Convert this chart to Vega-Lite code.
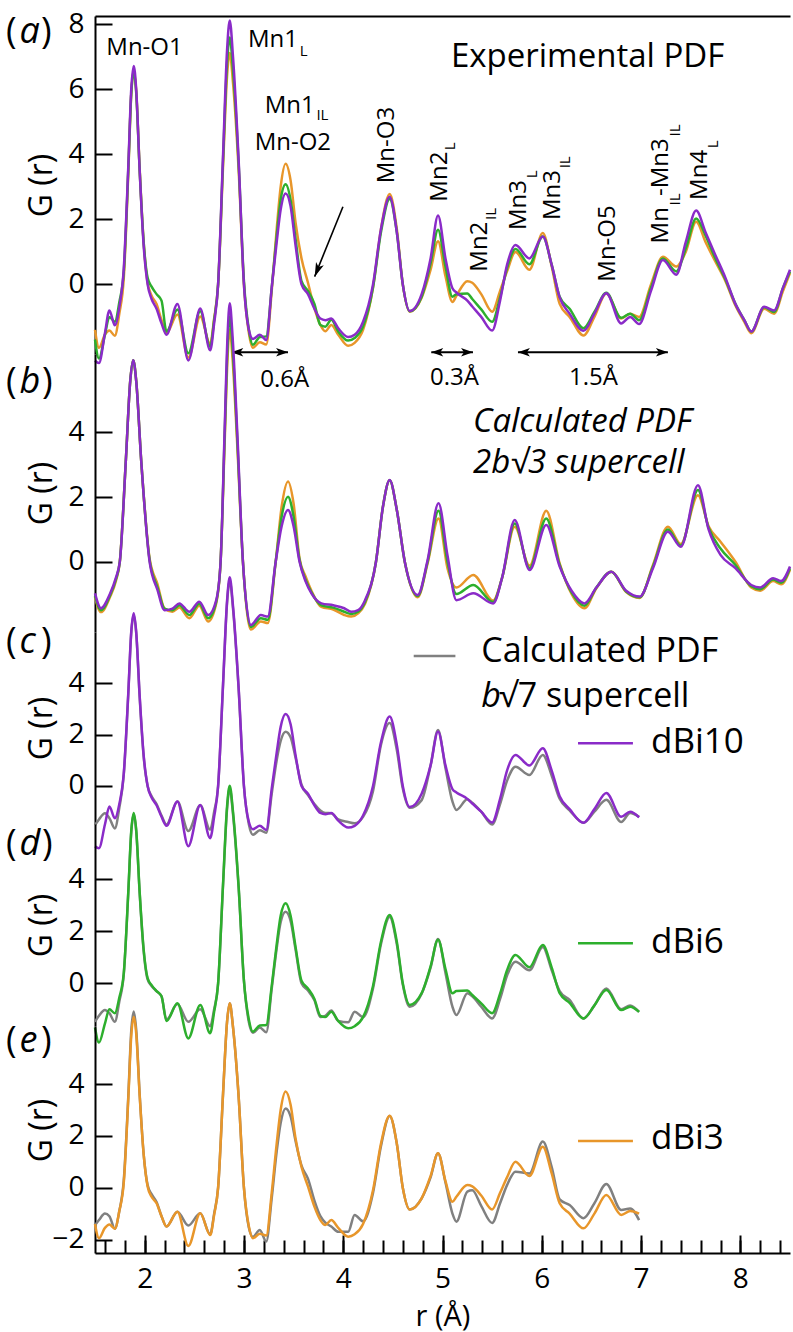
{
"$schema":"https://vega.github.io/schema/vega-lite/v6.json",
"background":"white",
"padding":{"left":6,"top":10,"right":0,"bottom":12},
"spacing":0,
"bounds":"flush",
"config":{"view":{"stroke":null},"font":"Open Sans",
 "axis":{"labelFont":"Open Sans","labelFontSize":28,"labelColor":"#000","titleFont":"Open Sans","titleFontSize":32,"titleFontWeight":"normal","titleColor":"#000","domainColor":"#000","domainWidth":2,"tickColor":"#000","tickWidth":2,"grid":false,"labelFlush":false,"labelOverlap":false}},
"datasets":{
"exp":[
{"r":1.5,"P":-2.35,"G":-1.7,"O":-1.4,"gc":-1.52,"gd":-1.48,"ge":-1.45},
{"r":1.54,"P":-2.42,"G":-2.28,"O":-1.95,"gc":-1.3,"gd":-1.25,"ge":-1.25},
{"r":1.6,"P":-1.5,"G":-1.55,"O":-1.55,"gc":-1.06,"gd":-1.03,"ge":-1.0},
{"r":1.645,"P":-0.8,"G":-1.0,"O":-1.42,"gc":-1.25,"gd":-1.15,"ge":-1.1},
{"r":1.7,"P":-1.26,"G":-1.15,"O":-1.58,"gc":-1.65,"gd":-1.48,"ge":-1.58},
{"r":1.745,"P":-0.7,"G":-0.55,"O":-0.9,"gc":-0.85,"gd":-0.7,"ge":-0.9},
{"r":1.79,"P":0.5,"G":0.4,"O":0.2,"gc":0.45,"gd":0.35,"ge":0.3},
{"r":1.835,"P":3.6,"G":3.5,"O":3.4,"gc":3.55,"gd":3.45,"ge":3.5},
{"r":1.865,"P":6.0,"G":5.85,"O":5.85,"gc":5.95,"gd":5.8,"ge":6.05},
{"r":1.89,"P":6.72,"G":6.55,"O":6.6,"gc":6.65,"gd":6.5,"ge":6.8},
{"r":1.915,"P":6.0,"G":5.9,"O":5.95,"gc":5.95,"gd":5.85,"ge":6.1},
{"r":1.95,"P":3.5,"G":3.5,"O":3.55,"gc":3.45,"gd":3.45,"ge":3.6},
{"r":1.99,"P":1.2,"G":1.3,"O":1.3,"gc":1.15,"gd":1.25,"ge":1.3},
{"r":2.03,"P":0.0,"G":0.2,"O":0.05,"gc":0.0,"gd":0.15,"ge":0.1},
{"r":2.07,"P":-0.45,"G":-0.07,"O":-0.35,"gc":-0.4,"gd":-0.1,"ge":-0.25},
{"r":2.12,"P":-0.75,"G":-0.3,"O":-0.6,"gc":-0.7,"gd":-0.3,"ge":-0.55},
{"r":2.17,"P":-1.2,"G":-0.5,"O":-1.1,"gc":-1.15,"gd":-0.5,"ge":-1.1},
{"r":2.22,"P":-1.55,"G":-1.45,"O":-1.5,"gc":-1.5,"gd":-1.4,"ge":-1.5},
{"r":2.33,"P":-0.6,"G":-0.77,"O":-0.93,"gc":-0.6,"gd":-0.8,"ge":-0.93},
{"r":2.44,"P":-2.34,"G":-2.12,"O":-2.25,"gc":-1.75,"gd":-1.48,"ge":-1.46},
{"r":2.56,"P":-0.74,"G":-0.83,"O":-0.99,"gc":-0.75,"gd":-1.0,"ge":-0.99},
{"r":2.66,"P":-2.03,"G":-1.92,"O":-1.83,"gc":-1.7,"gd":-1.65,"ge":-1.8},
{"r":2.7,"P":-1.2,"G":-1.1,"O":-1.05,"gc":-1.0,"gd":-1.0,"ge":-1.0},
{"r":2.74,"P":0.0,"G":0.0,"O":0.0,"gc":0.0,"gd":0.0,"ge":0.0},
{"r":2.79,"P":4.0,"G":3.85,"O":3.65,"gc":3.95,"gd":3.8,"ge":3.65},
{"r":2.83,"P":7.2,"G":6.8,"O":6.4,"gc":7.1,"gd":6.7,"ge":6.4},
{"r":2.857,"P":8.12,"G":7.6,"O":7.12,"gc":8.0,"gd":7.5,"ge":7.12},
{"r":2.89,"P":7.0,"G":6.6,"O":6.2,"gc":6.9,"gd":6.5,"ge":6.2},
{"r":2.947,"P":3.8,"G":3.7,"O":3.5,"gc":3.75,"gd":3.65,"ge":3.5},
{"r":3.0,"P":0.0,"G":0.1,"O":0.0,"gc":0.0,"gd":0.1,"ge":0.0},
{"r":3.05,"P":-1.4,"G":-1.4,"O":-1.5,"gc":-1.5,"gd":-1.5,"ge":-1.55},
{"r":3.09,"P":-1.68,"G":-1.86,"O":-1.95,"gc":-1.9,"gd":-1.9,"ge":-1.9},
{"r":3.16,"P":-1.55,"G":-1.62,"O":-1.78,"gc":-1.72,"gd":-1.7,"ge":-1.63},
{"r":3.225,"P":-1.71,"G":-1.6,"O":-1.85,"gc":-1.82,"gd":-1.88,"ge":-2.08},
{"r":3.28,"P":-0.1,"G":-0.1,"O":-0.2,"gc":-0.3,"gd":-0.2,"ge":-0.4},
{"r":3.33,"P":1.3,"G":1.5,"O":1.7,"gc":1.0,"gd":1.35,"ge":1.4},
{"r":3.37,"P":2.3,"G":2.6,"O":3.0,"gc":1.75,"gd":2.35,"ge":2.5},
{"r":3.42,"P":2.8,"G":3.08,"O":3.71,"gc":2.11,"gd":2.75,"ge":3.06},
{"r":3.47,"P":2.4,"G":2.6,"O":3.2,"gc":1.9,"gd":2.4,"ge":2.75},
{"r":3.52,"P":1.2,"G":1.4,"O":1.9,"gc":1.1,"gd":1.3,"ge":1.8},
{"r":3.58,"P":0.0,"G":0.1,"O":0.8,"gc":0.05,"gd":0.0,"ge":0.85},
{"r":3.645,"P":-0.3,"G":-0.2,"O":0.05,"gc":-0.35,"gd":-0.28,"ge":0.35},
{"r":3.71,"P":-0.75,"G":-0.6,"O":-0.73,"gc":-0.7,"gd":-0.65,"ge":-0.5},
{"r":3.77,"P":-1.05,"G":-1.25,"O":-1.25,"gc":-0.95,"gd":-1.3,"ge":-1.1},
{"r":3.82,"P":-1.1,"G":-1.3,"O":-1.44,"gc":-1.05,"gd":-1.25,"ge":-1.35},
{"r":3.88,"P":-1.05,"G":-1.09,"O":-1.25,"gc":-1.06,"gd":-1.05,"ge":-1.5},
{"r":3.95,"P":-1.35,"G":-1.45,"O":-1.55,"gc":-1.3,"gd":-1.45,"ge":-1.7},
{"r":4.05,"P":-1.62,"G":-1.73,"O":-1.89,"gc":-1.4,"gd":-1.5,"ge":-1.7},
{"r":4.115,"P":-1.55,"G":-1.65,"O":-1.8,"gc":-1.45,"gd":-1.09,"ge":-1.05},
{"r":4.2,"P":-1.15,"G":-1.3,"O":-1.4,"gc":-1.2,"gd":-1.3,"ge":-1.3},
{"r":4.3,"P":0.0,"G":-0.1,"O":-0.1,"gc":-0.2,"gd":-0.2,"ge":-0.2},
{"r":4.38,"P":1.7,"G":1.6,"O":1.7,"gc":1.6,"gd":1.5,"ge":1.6},
{"r":4.468,"P":2.7,"G":2.63,"O":2.78,"gc":2.45,"gd":2.55,"ge":2.77},
{"r":4.54,"P":1.6,"G":1.6,"O":1.7,"gc":1.4,"gd":1.5,"ge":1.7},
{"r":4.6,"P":0.0,"G":0.0,"O":0.0,"gc":-0.1,"gd":-0.05,"ge":0.0},
{"r":4.67,"P":-0.82,"G":-0.83,"O":-0.84,"gc":-0.85,"gd":-0.9,"ge":-0.84},
{"r":4.79,"P":-0.3,"G":-0.38,"O":-0.41,"gc":-0.55,"gd":-0.4,"ge":-0.41},
{"r":4.88,"P":0.8,"G":0.65,"O":0.45,"gc":0.8,"gd":0.6,"ge":0.4},
{"r":4.955,"P":2.12,"G":1.68,"O":1.33,"gc":2.18,"gd":1.7,"ge":1.33},
{"r":5.03,"P":0.8,"G":0.55,"O":0.25,"gc":0.7,"gd":0.4,"ge":0.2},
{"r":5.1,"P":-0.12,"G":-0.38,"O":-0.54,"gc":-0.6,"gd":-0.9,"ge":-1.0},
{"r":5.14,"P":-0.25,"G":-0.3,"O":-0.35,"gc":-0.93,"gd":-1.22,"ge":-1.31},
{"r":5.25,"P":-0.5,"G":-0.28,"O":0.1,"gc":-0.52,"gd":-0.38,"ge":-0.15},
{"r":5.3,"P":-0.68,"G":-0.45,"O":0.05,"gc":-0.65,"gd":-0.5,"ge":-0.1},
{"r":5.39,"P":-1.0,"G":-0.77,"O":-0.3,"gc":-1.0,"gd":-0.9,"ge":-0.7},
{"r":5.5,"P":-1.42,"G":-1.15,"O":-0.84,"gc":-1.5,"gd":-1.35,"ge":-1.36},
{"r":5.58,"P":-0.5,"G":-0.4,"O":-0.2,"gc":-0.7,"gd":-0.6,"ge":-0.6},
{"r":5.65,"P":0.6,"G":0.5,"O":0.4,"gc":0.2,"gd":0.3,"ge":0.1},
{"r":5.735,"P":1.21,"G":1.09,"O":1.0,"gc":0.75,"gd":0.83,"ge":0.62},
{"r":5.875,"P":0.8,"G":0.62,"O":0.45,"gc":0.43,"gd":0.5,"ge":0.55},
{"r":6.01,"P":1.47,"G":1.47,"O":1.58,"gc":1.21,"gd":1.4,"ge":1.78},
{"r":6.1,"P":0.6,"G":0.6,"O":0.55,"gc":0.4,"gd":0.5,"ge":0.8},
{"r":6.18,"P":-0.4,"G":-0.38,"O":-0.6,"gc":-0.5,"gd":-0.3,"ge":-0.45},
{"r":6.28,"P":-0.9,"G":-0.75,"O":-1.0,"gc":-0.95,"gd":-0.64,"ge":-0.67},
{"r":6.42,"P":-1.43,"G":-1.35,"O":-1.57,"gc":-1.43,"gd":-1.35,"ge":-1.18},
{"r":6.53,"P":-0.9,"G":-0.85,"O":-1.0,"gc":-1.0,"gd":-0.85,"ge":-0.6},
{"r":6.65,"P":-0.27,"G":-0.26,"O":-0.28,"gc":-0.54,"gd":-0.2,"ge":0.14},
{"r":6.8,"P":-1.2,"G":-1.03,"O":-1.05,"gc":-1.4,"gd":-1.0,"ge":-0.86},
{"r":6.89,"P":-1.0,"G":-0.9,"O":-0.9,"gc":-1.05,"gd":-0.85,"ge":-0.8},
{"r":6.98,"P":-1.22,"G":-1.1,"O":-1.0,"gc":-1.2,"gd":-1.1,"ge":-1.25},
{"r":7.1,"P":-0.2,"G":-0.1,"O":0.0},
{"r":7.22,"P":0.75,"G":0.8,"O":0.85},
{"r":7.355,"P":0.3,"G":0.4,"O":0.55},
{"r":7.45,"P":1.3,"G":1.1,"O":1.0},
{"r":7.555,"P":2.27,"G":2.03,"O":1.93},
{"r":7.65,"P":1.6,"G":1.5,"O":1.3},
{"r":7.74,"P":0.96,"G":0.85,"O":0.75},
{"r":7.85,"P":0.2,"G":0.15,"O":0.1},
{"r":7.95,"P":-0.6,"G":-0.6,"O":-0.65},
{"r":8.04,"P":-1.1,"G":-1.1,"O":-1.15},
{"r":8.11,"P":-1.45,"G":-1.45,"O":-1.5},
{"r":8.24,"P":-0.69,"G":-0.7,"O":-0.75},
{"r":8.34,"P":-0.8,"G":-0.85,"O":-0.9},
{"r":8.43,"P":-0.1,"G":-0.1,"O":-0.2},
{"r":8.5,"P":0.45,"G":0.4,"O":0.35}
],
"calc":[
{"r":1.5,"P":-0.98,"G":-1.05,"O":-1.1},
{"r":1.56,"P":-1.44,"G":-1.5,"O":-1.56},
{"r":1.65,"P":-1.0,"G":-1.05,"O":-1.1},
{"r":1.71,"P":-0.5,"G":-0.55,"O":-0.6},
{"r":1.75,"P":0.0,"G":0.0,"O":0.0},
{"r":1.81,"P":3.1,"G":3.1,"O":3.1},
{"r":1.855,"P":5.6,"G":5.6,"O":5.6},
{"r":1.885,"P":6.24,"G":6.24,"O":6.24},
{"r":1.915,"P":5.6,"G":5.6,"O":5.6},
{"r":1.966,"P":3.1,"G":3.1,"O":3.1},
{"r":2.05,"P":0.0,"G":0.05,"O":0.1},
{"r":2.13,"P":-0.88,"G":-0.8,"O":-0.7},
{"r":2.2,"P":-1.5,"G":-1.45,"O":-1.45},
{"r":2.28,"P":-1.45,"G":-1.5,"O":-1.55},
{"r":2.35,"P":-1.29,"G":-1.35,"O":-1.42},
{"r":2.45,"P":-1.55,"G":-1.65,"O":-1.75},
{"r":2.55,"P":-1.24,"G":-1.3,"O":-1.36},
{"r":2.64,"P":-1.65,"G":-1.75,"O":-1.85},
{"r":2.72,"P":-1.2,"G":-1.25,"O":-1.3},
{"r":2.765,"P":0.0,"G":0.0,"O":0.0},
{"r":2.805,"P":4.0,"G":3.8,"O":3.6},
{"r":2.835,"P":7.0,"G":6.65,"O":6.3},
{"r":2.857,"P":8.0,"G":7.6,"O":7.2},
{"r":2.885,"P":7.0,"G":6.65,"O":6.3},
{"r":2.933,"P":4.0,"G":3.8,"O":3.6},
{"r":2.99,"P":0.0,"G":0.0,"O":0.0},
{"r":3.07,"P":-1.96,"G":-2.02,"O":-2.1},
{"r":3.17,"P":-1.65,"G":-1.75,"O":-1.85},
{"r":3.24,"P":-1.7,"G":-1.8,"O":-1.9},
{"r":3.32,"P":0.0,"G":0.0,"O":0.0},
{"r":3.38,"P":1.1,"G":1.4,"O":1.7},
{"r":3.444,"P":1.6,"G":2.01,"O":2.48},
{"r":3.5,"P":1.1,"G":1.4,"O":1.8},
{"r":3.56,"P":0.0,"G":0.05,"O":0.1},
{"r":3.62,"P":-0.6,"G":-0.55,"O":-0.45},
{"r":3.68,"P":-0.98,"G":-0.95,"O":-0.9},
{"r":3.78,"P":-1.29,"G":-1.35,"O":-1.4},
{"r":3.9,"P":-1.35,"G":-1.42,"O":-1.48},
{"r":4.01,"P":-1.44,"G":-1.55,"O":-1.65},
{"r":4.08,"P":-1.55,"G":-1.62,"O":-1.7},
{"r":4.15,"P":-1.5,"G":-1.55,"O":-1.6},
{"r":4.22,"P":-1.19,"G":-1.25,"O":-1.3},
{"r":4.33,"P":0.0,"G":0.0,"O":0.0},
{"r":4.4,"P":1.7,"G":1.7,"O":1.7},
{"r":4.468,"P":2.53,"G":2.52,"O":2.52},
{"r":4.54,"P":1.6,"G":1.6,"O":1.6},
{"r":4.62,"P":0.0,"G":0.0,"O":0.0},
{"r":4.75,"P":-1.03,"G":-1.06,"O":-1.1},
{"r":4.85,"P":0.05,"G":0.0,"O":-0.05},
{"r":4.96,"P":1.81,"G":1.58,"O":1.34},
{"r":5.05,"P":0.2,"G":0.0,"O":-0.2},
{"r":5.14,"P":-1.19,"G":-1.0,"O":-0.8},
{"r":5.31,"P":-0.98,"G":-0.72,"O":-0.41},
{"r":5.51,"P":-1.29,"G":-1.25,"O":-1.2},
{"r":5.6,"P":-0.5,"G":-0.5,"O":-0.5},
{"r":5.727,"P":1.29,"G":1.18,"O":1.08},
{"r":5.877,"P":-0.26,"G":-0.2,"O":-0.12},
{"r":6.045,"P":1.14,"G":1.34,"O":1.58},
{"r":6.18,"P":-0.15,"G":-0.1,"O":-0.05},
{"r":6.3,"P":-0.9,"G":-0.95,"O":-1.0},
{"r":6.43,"P":-1.29,"G":-1.36,"O":-1.44},
{"r":6.55,"P":-0.8,"G":-0.8,"O":-0.82},
{"r":6.7,"P":-0.31,"G":-0.31,"O":-0.31},
{"r":6.85,"P":-0.9,"G":-0.92,"O":-0.94},
{"r":6.985,"P":-1.08,"G":-1.1,"O":-1.12},
{"r":7.12,"P":-0.2,"G":-0.15,"O":-0.1},
{"r":7.27,"P":0.93,"G":1.0,"O":1.08},
{"r":7.4,"P":0.46,"G":0.5,"O":0.55},
{"r":7.573,"P":2.37,"G":2.22,"O":2.06},
{"r":7.68,"P":1.0,"G":1.05,"O":1.1},
{"r":7.8,"P":0.21,"G":0.41,"O":0.62},
{"r":7.95,"P":-0.2,"G":-0.1,"O":0.0},
{"r":8.11,"P":-0.72,"G":-0.76,"O":-0.8},
{"r":8.2,"P":-0.8,"G":-0.85,"O":-0.9},
{"r":8.33,"P":-0.51,"G":-0.55,"O":-0.6},
{"r":8.41,"P":-0.6,"G":-0.65,"O":-0.7},
{"r":8.5,"P":-0.15,"G":-0.2,"O":-0.25}
]
},
"vconcat":[
{
"width":695,"height":338,
"encoding":{
 "x":{"field":"r","type":"quantitative","scale":{"domain":[1.5,8.5],"nice":false,"zero":false},"axis":{"orient":"top","ticks":false,"labels":false,"domain":true,"title":null}},
 "y":{"field":"v","type":"quantitative","scale":{"domain":[-2.142,8.258],"nice":false,"zero":false},"axis":{"orient":"left","values":[0,2,4,6,8],"tickSize":-17,"labelPadding":28,"title":"G (r)","titleAngle":270,"titleAlign":"center","titleBaseline":"middle","titleX":-54,"titleY":169}}
},
"layer":[
 {"data":{"name":"exp"},"transform":[{"fold":["O"],"as":["k","v"]}],"mark":{"type":"line","color":"#E8962A","strokeWidth":2.5,"interpolate":"monotone"}},
 {"data":{"name":"exp"},"transform":[{"fold":["G"],"as":["k","v"]}],"mark":{"type":"line","color":"#2DAF2D","strokeWidth":2.5,"interpolate":"monotone"}},
 {"data":{"name":"exp"},"transform":[{"fold":["P"],"as":["k","v"]}],"mark":{"type":"line","color":"#8A2BC8","strokeWidth":2.5,"interpolate":"monotone"}},
 {"data":{"values":[{"t":"Mn-O1","r":1.614,"v":7.27},{"t":"Mn1","r":3.041,"v":7.52},{"t":"Mn1","r":3.209,"v":5.5},{"t":"Mn-O2","r":3.108,"v":4.36}]},
  "mark":{"type":"text","font":"Open Sans","fontSize":24,"align":"left","baseline":"middle","color":"#000"},"encoding":{"text":{"field":"t"}}},
 {"data":{"values":[{"t":"L","r":3.561,"v":7.19},{"t":"IL","r":3.73,"v":5.22}]},
  "mark":{"type":"text","font":"Open Sans","fontSize":15,"align":"left","baseline":"middle","color":"#000"},"encoding":{"text":{"field":"t"}}},
 {"data":{"values":[{"t":"Mn-O3","r":4.44,"v":3.11},{"t":"Mn2","r":4.971,"v":2.545},{"t":"Mn2","r":5.374,"v":0.39},{"t":"Mn3","r":5.767,"v":1.674},{"t":"Mn3","r":6.112,"v":1.98},{"t":"Mn-O5","r":6.666,"v":0.083},{"t":"Mn","r":7.203,"v":1.26},{"t":"-Mn3","r":7.203,"v":2.72},{"t":"Mn4","r":7.59,"v":2.6}]},
  "mark":{"type":"text","font":"Open Sans","fontSize":24,"align":"left","baseline":"middle","angle":270,"color":"#000"},"encoding":{"text":{"field":"t"}}},
 {"data":{"values":[{"t":"L","r":5.078,"v":4.13},{"t":"IL","r":5.49,"v":1.98},{"t":"L","r":5.904,"v":3.265},{"t":"IL","r":6.23,"v":3.57},{"t":"IL","r":7.337,"v":2.43},{"t":"IL","r":7.337,"v":4.55},{"t":"L","r":7.724,"v":4.19}]},
  "mark":{"type":"text","font":"Open Sans","fontSize":15,"align":"left","baseline":"middle","angle":270,"color":"#000"},"encoding":{"text":{"field":"t"}}},
 {"data":{"values":[{"t":"Experimental PDF","r":5.085,"v":7.01}]},
  "mark":{"type":"text","font":"Open Sans","fontSize":33,"align":"left","baseline":"middle","color":"#000"},"encoding":{"text":{"field":"t"}}},
 {"data":{"values":[{"t":"(","r":0.604,"v":7.42},{"t":")","r":0.955,"v":7.42}]},
  "mark":{"type":"text","font":"Open Sans","fontSize":36,"align":"left","baseline":"alphabetic","color":"#000"},"encoding":{"text":{"field":"t"}}},
 {"data":{"values":[{"t":"a","r":0.74,"v":7.42}]},
  "mark":{"type":"text","font":"Open Sans","fontSize":36,"fontStyle":"italic","align":"left","baseline":"alphabetic","color":"#000"},"encoding":{"text":{"field":"t"}}},
 {"data":{"values":[{"r":3.997,"v":2.39,"r2":3.712,"v2":0.24}]},
  "mark":{"type":"rule","color":"#000","strokeWidth":1.6},"encoding":{"x2":{"field":"r2"},"y2":{"field":"v2"}}},
 {"data":{"values":[{"r":3.739,"v":0.437}]},
  "mark":{"type":"point","shape":"M0,-1L0.6,1L0,0.5L-0.6,1Z","filled":true,"color":"#000","opacity":1,"size":196,"angle":202},"encoding":{}},
 {"data":{"values":[{"r":2.873,"r2":3.444,"v":-2.09},{"r":4.887,"r2":5.307,"v":-2.09},{"r":5.76,"r2":7.27,"v":-2.09}]},
  "mark":{"type":"rule","color":"#000","strokeWidth":2},"encoding":{"x2":{"field":"r2"}}},
 {"data":{"values":[{"r":2.933,"v":-2.09},{"r":4.947,"v":-2.09},{"r":5.82,"v":-2.09}]},
  "mark":{"type":"point","shape":"M-1,0L1,-0.7L0.5,0L1,0.7Z","filled":true,"color":"#000","opacity":1,"size":144},"encoding":{}},
 {"data":{"values":[{"r":3.384,"v":-2.09},{"r":5.247,"v":-2.09},{"r":7.21,"v":-2.09}]},
  "mark":{"type":"point","shape":"M1,0L-1,-0.7L-0.5,0L-1,0.7Z","filled":true,"color":"#000","opacity":1,"size":144},"encoding":{}},
 {"data":{"values":[{"t":"0.6Å","r":3.41,"v":-2.94},{"t":"0.3Å","r":5.12,"v":-2.89},{"t":"1.5Å","r":6.52,"v":-2.89}]},
  "mark":{"type":"text","font":"Open Sans","fontSize":24,"align":"center","baseline":"middle","color":"#000"},"encoding":{"text":{"field":"t"}}}
]
},
{
"width":695,"height":278,
"encoding":{
 "x":{"field":"r","type":"quantitative","scale":{"domain":[1.5,8.5],"nice":false,"zero":false},"axis":null},
 "y":{"field":"v","type":"quantitative","scale":{"domain":[-2.176,6.43],"nice":false,"zero":false},"axis":{"orient":"left","values":[0,2,4],"tickSize":-17,"labelPadding":28,"title":"G (r)","titleAngle":270,"titleAlign":"center","titleBaseline":"middle","titleX":-54,"titleY":139}}
},
"layer":[
 {"data":{"name":"calc"},"transform":[{"fold":["O"],"as":["k","v"]}],"mark":{"type":"line","color":"#E8962A","strokeWidth":2.5,"interpolate":"monotone"}},
 {"data":{"name":"calc"},"transform":[{"fold":["G"],"as":["k","v"]}],"mark":{"type":"line","color":"#2DAF2D","strokeWidth":2.5,"interpolate":"monotone"}},
 {"data":{"name":"calc"},"transform":[{"fold":["P"],"as":["k","v"]}],"mark":{"type":"line","color":"#8A2BC8","strokeWidth":2.5,"interpolate":"monotone"}},
 {"data":{"values":[{"t":"(","r":0.604,"v":5.21},{"t":")","r":0.965,"v":5.21}]},
  "mark":{"type":"text","font":"Open Sans","fontSize":36,"align":"left","baseline":"alphabetic","color":"#000"},"encoding":{"text":{"field":"t"}}},
 {"data":{"values":[{"t":"b","r":0.74,"v":5.21}]},
  "mark":{"type":"text","font":"Open Sans","fontSize":36,"fontStyle":"italic","align":"left","baseline":"alphabetic","color":"#000"},"encoding":{"text":{"field":"t"}}},
 {"data":{"values":[{"t":"Calculated PDF","r":5.307,"v":4.33},{"t":"2b√3 supercell","r":5.307,"v":3.05}]},
  "mark":{"type":"text","font":"Open Sans","fontSize":33,"fontStyle":"italic","align":"left","baseline":"middle","color":"#000"},"encoding":{"text":{"field":"t"}}}
]
},
{
"width":695,"height":192,
"encoding":{
 "x":{"field":"r","type":"quantitative","scale":{"domain":[1.5,8.5],"nice":false,"zero":false},"axis":null},
 "y":{"field":"v","type":"quantitative","scale":{"domain":[-1.479,5.992],"nice":false,"zero":false},"axis":{"orient":"left","values":[0,2,4],"tickSize":-17,"labelPadding":28,"title":"G (r)","titleAngle":270,"titleAlign":"center","titleBaseline":"middle","titleX":-54,"titleY":96}}
},
"layer":[
 {"data":{"name":"exp"},"transform":[{"filter":"datum.r <= 7"},{"fold":["gc"],"as":["k","v"]}],"mark":{"type":"line","color":"#808080","strokeWidth":2.5,"interpolate":"monotone"}},
 {"data":{"name":"exp"},"transform":[{"filter":"datum.r <= 7"},{"fold":["P"],"as":["k","v"]}],"mark":{"type":"line","color":"#8A2BC8","strokeWidth":2.5,"interpolate":"monotone"}},
 {"data":{"values":[{"t":"(","r":0.604,"v":5.16},{"t":")","r":0.955,"v":5.16}]},
  "mark":{"type":"text","font":"Open Sans","fontSize":36,"align":"left","baseline":"alphabetic","color":"#000"},"encoding":{"text":{"field":"t"}}},
 {"data":{"values":[{"t":"c","r":0.74,"v":5.16}]},
  "mark":{"type":"text","font":"Open Sans","fontSize":36,"fontStyle":"italic","align":"left","baseline":"alphabetic","color":"#000"},"encoding":{"text":{"field":"t"}}},
 {"data":{"values":[{"r":4.71,"r2":5.13,"v":5.06}]},
  "mark":{"type":"rule","color":"#808080","strokeWidth":2.5},"encoding":{"x2":{"field":"r2"}}},
 {"data":{"values":[{"t":"Calculated PDF","r":5.39,"v":5.23},{"t":"√7 supercell","r":5.57,"v":3.47}]},
  "mark":{"type":"text","font":"Open Sans","fontSize":34,"align":"left","baseline":"middle","color":"#000"},"encoding":{"text":{"field":"t"}}},
 {"data":{"values":[{"t":"b","r":5.39,"v":3.47}]},
  "mark":{"type":"text","font":"Open Sans","fontSize":34,"fontStyle":"italic","align":"left","baseline":"middle","color":"#000"},"encoding":{"text":{"field":"t"}}},
 {"data":{"values":[{"r":6.365,"r2":6.918,"v":1.66}]},
  "mark":{"type":"rule","color":"#8A2BC8","strokeWidth":2.5},"encoding":{"x2":{"field":"r2"}}},
 {"data":{"values":[{"t":"dBi10","r":7.1,"v":1.72}]},
  "mark":{"type":"text","font":"Open Sans","fontSize":35,"align":"left","baseline":"middle","color":"#000"},"encoding":{"text":{"field":"t"}}}
]
},
{
"width":695,"height":202,
"encoding":{
 "x":{"field":"r","type":"quantitative","scale":{"domain":[1.5,8.5],"nice":false,"zero":false},"axis":null},
 "y":{"field":"v","type":"quantitative","scale":{"domain":[-1.642,6.127],"nice":false,"zero":false},"axis":{"orient":"left","values":[0,2,4],"tickSize":-17,"labelPadding":28,"title":"G (r)","titleAngle":270,"titleAlign":"center","titleBaseline":"middle","titleX":-54,"titleY":101}}
},
"layer":[
 {"data":{"name":"exp"},"transform":[{"filter":"datum.r <= 7"},{"fold":["gd"],"as":["k","v"]}],"mark":{"type":"line","color":"#808080","strokeWidth":2.5,"interpolate":"monotone"}},
 {"data":{"name":"exp"},"transform":[{"filter":"datum.r <= 7"},{"fold":["G"],"as":["k","v"]}],"mark":{"type":"line","color":"#2DAF2D","strokeWidth":2.5,"interpolate":"monotone"}},
 {"data":{"values":[{"t":"(","r":0.604,"v":4.93},{"t":")","r":0.965,"v":4.93}]},
  "mark":{"type":"text","font":"Open Sans","fontSize":36,"align":"left","baseline":"alphabetic","color":"#000"},"encoding":{"text":{"field":"t"}}},
 {"data":{"values":[{"t":"d","r":0.74,"v":4.93}]},
  "mark":{"type":"text","font":"Open Sans","fontSize":36,"fontStyle":"italic","align":"left","baseline":"alphabetic","color":"#000"},"encoding":{"text":{"field":"t"}}},
 {"data":{"values":[{"r":6.365,"r2":6.918,"v":1.54}]},
  "mark":{"type":"rule","color":"#2DAF2D","strokeWidth":2.5},"encoding":{"x2":{"field":"r2"}}},
 {"data":{"values":[{"t":"dBi6","r":7.1,"v":1.6}]},
  "mark":{"type":"text","font":"Open Sans","fontSize":35,"align":"left","baseline":"middle","color":"#000"},"encoding":{"text":{"field":"t"}}}
]
},
{
"width":695,"height":227,
"encoding":{
 "y":{"field":"v","type":"quantitative","scale":{"domain":[-2.521,6.243],"nice":false,"zero":false},"axis":{"orient":"left","values":[-2,0,2,4],"tickSize":-17,"labelPadding":28,"title":"G (r)","titleAngle":270,"titleAlign":"center","titleBaseline":"middle","titleX":-54,"titleY":104}}
},
"resolve":{"axis":{"x":"independent"}},
"layer":[
 {"data":{"name":"exp"},"transform":[{"filter":"datum.r <= 7"},{"fold":["ge"],"as":["k","v"]}],"mark":{"type":"line","color":"#808080","strokeWidth":2.5,"interpolate":"monotone"},
  "encoding":{"x":{"field":"r","type":"quantitative","scale":{"domain":[1.5,8.5],"nice":false,"zero":false},"axis":{"orient":"bottom","values":[1.6,1.8,2,2.2,2.4,2.6,2.8,3,3.2,3.4,3.6,3.8,4,4.2,4.4,4.6,4.8,5,5.2,5.4,5.6,5.8,6,6.2,6.4,6.6,6.8,7,7.2,7.4,7.6,7.8,8,8.2,8.4],"tickSize":-13,"labels":false,"domain":true,"title":null}}}},
 {"data":{"name":"exp"},"transform":[{"filter":"datum.r <= 7"},{"fold":["O"],"as":["k","v"]}],"mark":{"type":"line","color":"#E8962A","strokeWidth":2.5,"interpolate":"monotone"},
  "encoding":{"x":{"field":"r","type":"quantitative","scale":{"domain":[1.5,8.5],"nice":false,"zero":false},"axis":{"orient":"bottom","values":[2,3,4,5,6,7,8],"tickSize":-18,"labelPadding":30,"domain":false,"title":"r (Å)","titleFontSize":29,"titlePadding":9}}}},
 {"data":{"values":[{"t":"(","r":0.604,"v":5.25},{"t":")","r":0.955,"v":5.25}]},
  "mark":{"type":"text","font":"Open Sans","fontSize":36,"align":"left","baseline":"alphabetic","color":"#000"},"encoding":{"x":{"field":"r","type":"quantitative","axis":null},"text":{"field":"t"}}},
 {"data":{"values":[{"t":"e","r":0.74,"v":5.25}]},
  "mark":{"type":"text","font":"Open Sans","fontSize":36,"fontStyle":"italic","align":"left","baseline":"alphabetic","color":"#000"},"encoding":{"x":{"field":"r","type":"quantitative","axis":null},"text":{"field":"t"}}},
 {"data":{"values":[{"r":6.365,"r2":6.918,"v":1.8}]},
  "mark":{"type":"rule","color":"#E8962A","strokeWidth":2.5},"encoding":{"x":{"field":"r","type":"quantitative","axis":null},"x2":{"field":"r2"}}},
 {"data":{"values":[{"t":"dBi3","r":7.1,"v":1.91}]},
  "mark":{"type":"text","font":"Open Sans","fontSize":35,"align":"left","baseline":"middle","color":"#000"},"encoding":{"x":{"field":"r","type":"quantitative","axis":null},"text":{"field":"t"}}}
]
}
]
}
